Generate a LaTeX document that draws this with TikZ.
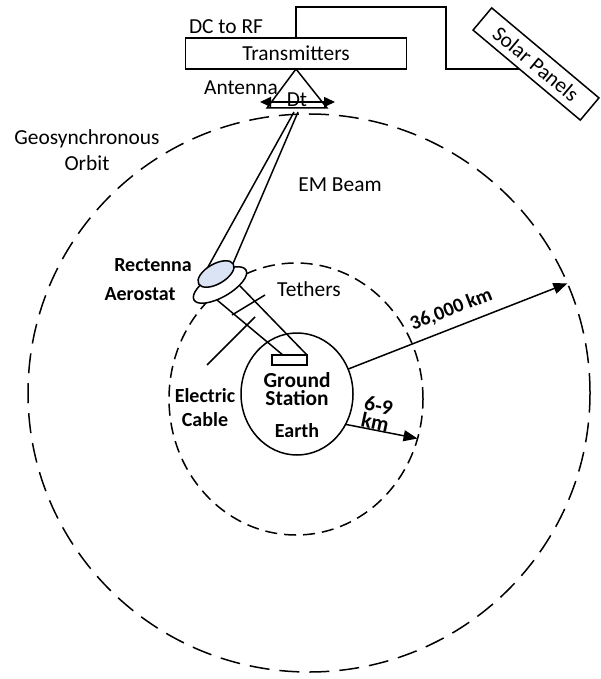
\documentclass[tikz,border=0pt]{standalone}
\usepackage{fontspec}
\setmainfont{Carlito}
\usetikzlibrary{shapes.geometric, arrows.meta, positioning, calc}
\definecolor{rectblue}{RGB}{218,228,244}
\tikzset{
    box/.style={rectangle, draw, inner sep=0pt, outer sep=0pt},
    orbit/.style={ellipse, draw, inner sep=0pt, outer sep=0pt},
    balloon/.style={ellipse, draw, rotate=30, inner sep=0pt, outer sep=0pt},
    lbl/.style={inner sep=0pt, align=center},
    blbl/.style={lbl, font=\bfseries},
    arrow/.style={-{Triangle[length=7pt, width=5.5pt]}},
    dblarrow/.style={{Triangle[length=5.5pt, width=5pt]}-{Triangle[length=5.5pt, width=5pt]}},
}

\begin{document}
\begin{tikzpicture}[x=0.5pt, y=-0.5pt, line width=0.75pt, font=\fontsize{10.7}{13}\selectfont]
    \useasboundingbox (0,0) rectangle (600,679);

    % orbits and earth
    \node[orbit, dash pattern=on 10pt off 5pt, minimum width=281pt, minimum height=279pt] (geo) at (309,393) {};
    \node[orbit, dash pattern=on 6pt off 3.5pt, minimum width=127pt, minimum height=136pt] (strato) at (296,399) {};
    \node[orbit, minimum width=56pt, minimum height=61pt] (earth) at (297,394) {};

    % space segment
    \node[box, minimum width=110.5pt, minimum height=15.5pt] (tx) at (296,53.5) {Transmitters};
    \node[box, rotate=-40, minimum width=70pt, minimum height=14.5pt] (sp) at (536,64) {Solar Panels};
    \node[lbl] (dcrf) at (226,27) {DC to RF};
    \draw (tx.north) |- (446,7) |- ($(sp.south west)!0.43!(sp.south east)$);

    \coordinate (antL) at (267,108);
    \coordinate (antR) at (327,108);
    \draw (tx.south) -- (antL) -- (antR) -- cycle;
    \node[lbl] (ant) at (241,88) {Antenna};
    \node[lbl] (dt) at (297,100) {Dt};
    \coordinate (dtL) at (260,102);
    \coordinate (dtR) at (335,102);
    \draw[dblarrow] (dtL) -- (dtR);

    % beam
    \coordinate (beamA) at (294,112);
    \coordinate (beamB) at (298,112);
    \coordinate (beamL) at (203,276);
    \coordinate (beamR) at (232,266);
    \draw (beamA) -- (beamL);
    \draw (beamB) -- (beamR);
    \node[lbl] (em) at (340,185) {EM Beam};

    % aerostat, tethers, ground station
    \node[box, minimum width=17.5pt, minimum height=5pt] (gs) at (289.5,360) {};
    \draw (217,300) -- ($(gs.north west)!0.31!(gs.north east)$);
    \draw (240,286) -- (gs.north east);
    \node[balloon, fill=white, minimum width=30pt, minimum height=12pt] (aero) at (220,285) {};
    \node[balloon, fill=rectblue, minimum width=20pt, minimum height=10pt] (rect) at (216,274) {};
    \coordinate (tethA) at (265,295);
    \coordinate (tethB) at (232,315);
    \coordinate (cabA) at (255,317);
    \coordinate (cabB) at (207,365);
    \draw (tethA) -- (tethB);
    \draw (cabA) -- (cabB);

    % distances
    \draw[arrow] (earth.26) -- (geo.23) node[pos=0.5, above=1pt, sloped, font=\bfseries] {36,000 km};
    \draw[arrow] (earth.-32) -- (strato.-18);

    % labels
    \node[lbl] (geolbl) at (87,150) {Geosynchronous\\Orbit};
    \node[blbl] (rectlbl) at (153,265) {Rectenna};
    \node[blbl] (aerolbl) at (140,294) {Aerostat};
    \node[lbl] (tethlbl) at (309,289) {Tethers};
    \node[blbl] (cablbl) at (205,407.5) {Electric\\Cable};
    \node[blbl, font=\fontsize{10.7}{9}\selectfont\bfseries] (gslbl) at (297,389) {Ground\\Station};
    \node[blbl] (earthlbl) at (297,431) {Earth};
    \node[blbl, rotate=-12, font=\fontsize{10.7}{8.5}\selectfont\bfseries] (kmlbl) at (377,414) {6-9\\km};
\end{tikzpicture}
\end{document}
